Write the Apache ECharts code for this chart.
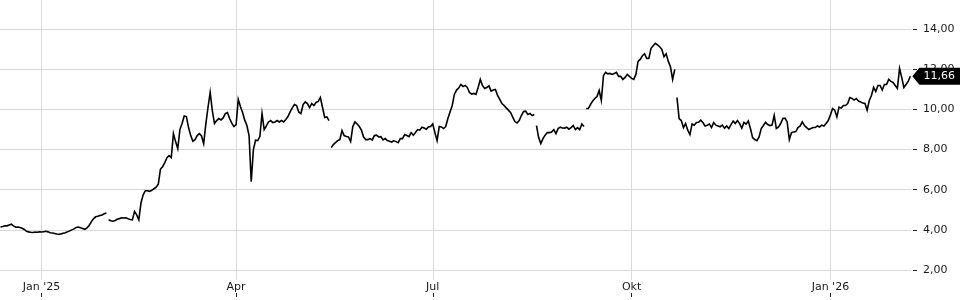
<!DOCTYPE html>
<html><head><meta charset="utf-8">
<script src="https://cdn.jsdelivr.net/npm/echarts@6/dist/echarts.min.js"></script>
<style>html,body{margin:0;padding:0;background:#fff}#c{width:960px;height:300px}</style>
</head><body><div id="c"></div>
<script>
// ---- data (daily closes; segments separated by breaks) ----
const seriesStartDate = '2024-12-13';
const seg1Start = 0;
const seg1 = [4.15,4.17,4.2,4.2,4.24,4.28,4.2,4.13,4.14,4.12,
  4.08,4.02,3.93,3.9,3.88,3.87,3.89,3.88,3.9,3.89,
  3.91,3.93,3.9,3.86,3.84,3.82,3.79,3.78,3.8,3.83,
  3.86,3.9,3.95,4.0,4.05,4.12,4.14,4.1,4.07,4.03,
  4.1,4.22,4.4,4.55,4.65,4.68,4.72,4.74,4.8,4.84];
const seg2Start = 50;
const seg2 = [4.5,4.45,4.43,4.47,4.53,4.56,4.6,4.59,4.6,4.55,
  4.52,4.5,4.92,4.75,4.5,5.35,5.75,5.95,5.95,5.92,
  5.97,6.05,6.13,6.28,7.03,7.15,7.35,7.6,7.7,7.6,
  8.8,8.4,8.05,9.0,9.3,9.68,9.65,9.1,8.7,8.42,
  8.5,8.7,8.8,8.68,8.3,9.28,10.1,10.85,9.95,9.3,
  9.45,9.55,9.48,9.58,9.8,9.85,9.55,9.32,9.15,9.25,
  10.5,10.15,9.85,9.47,9.2,8.7,6.4,8.0,8.47,8.45,
  8.65,9.8,9.0,9.18,9.38,9.45,9.35,9.38,9.45,9.38,
  9.45,9.38,9.5,9.65,9.88,10.08,10.25,10.2,9.88,9.8,
  10.25,10.38,10.3,10.1,10.3,10.2,10.35,10.4,10.6,10.1,
  9.6,9.63,9.45];
const seg3Start = 153;
const seg3 = [8.1,8.25,8.35,8.45,8.5,8.95,8.7,8.65,8.63,8.4,
  9.15,9.38,9.28,9.15,8.97,8.63,8.5,8.5,8.55,8.48,
  8.7,8.72,8.63,8.65,8.48,8.55,8.45,8.42,8.38,8.45,
  8.4,8.35,8.55,8.55,8.75,8.7,8.65,8.85,8.72,8.85,
  9.0,8.97,9.12,9.08,9.02,9.13,9.15,9.28,8.85,8.45,
  9.15,9.13,9.05,9.15,9.55,9.88,10.2,10.75,10.97,11.07,
  11.25,11.15,11.2,11.1,10.85,10.77,10.8,10.75,11.1,11.5,
  11.2,11.05,11.1,11.18,10.92,10.97,11.0,10.7,10.5,10.3,
  10.2,10.08,9.97,9.85,9.62,9.4,9.33,9.45,9.7,9.9,
  9.92,9.75,9.8,9.7,9.75];
const seg4Start = 248;
const seg4 = [9.2,8.6,8.3,8.55,8.72,8.85,8.85,8.88,9.0,8.8,
  9.05,9.12,9.08,9.07,9.12,9.02,9.1,9.2,9.0,9.1,
  9.0,9.28,9.15];
const seg5Start = 271;
const seg5 = [10.05,10.05,10.25,10.43,10.55,10.65,10.95,10.45,11.7,11.85,
  11.78,11.8,11.75,11.8,11.85,11.65,11.65,11.5,11.6,11.75,
  11.65,11.55,11.5,11.75,12.4,12.5,12.68,12.78,12.55,12.55,
  13.05,13.18,13.3,13.22,13.13,13.0,12.63,12.78,12.4,12.13,
  11.5,12.0];
const seg6Start = 313;
const seg6 = [10.6,9.55,9.45,9.1,9.3,8.97,8.75,9.28,9.22,9.35,
  9.36,9.47,9.35,9.18,9.22,9.28,9.1,9.35,9.22,9.18,
  9.14,9.22,9.07,9.18,9.05,9.25,9.42,9.3,9.45,9.3,
  9.07,9.36,9.27,9.42,9.05,8.6,8.5,8.45,8.63,9.05,
  9.2,9.36,9.25,9.2,9.22,9.7,9.05,9.13,9.3,9.55,
  9.57,9.38,8.5,8.85,8.88,8.9,
  9.1,9.18,9.38,9.2,9.1,9.0,9.05,9.1,9.1,9.18,
  9.13,9.22,9.18,9.3,9.45,9.72,10.05,9.97,9.63,10.12,
  10.07,10.2,10.2,10.3,10.6,10.55,10.47,10.55,10.42,10.38,
  10.32,10.3,9.97,10.45,10.7,11.1,10.9,11.2,11.2,10.97,
  11.25,11.25,11.5,11.4,11.35,11.2,11.05,12.05,11.6,11.1,
  11.25,11.4,11.66];

const segStarts = [seg1Start, seg2Start, seg3Start, seg4Start, seg5Start, seg6Start];
const segValues = [seg1, seg2, seg3, seg4, seg5, seg6];

const tickDates = ['2025-01-01','2025-04-01','2025-07-01','2025-10-01','2026-01-01'];
const tickLabels = ["Jan '25", 'Apr', 'Jul', 'Okt', "Jan '26"];
const yTicks = [2, 4, 6, 8, 10, 12, 14];

// ---- build ----
const DAY = 86400000;
const t0 = Date.parse(seriesStartDate);
const data = [];
segValues.forEach((vals, si) => {
  if (si > 0) {
    const prevLast = data[data.length - 1][0];
    data.push([prevLast + DAY / 2, null]);
  }
  vals.forEach((v, i) => data.push([t0 + (segStarts[si] + i) * DAY, v]));
});
const last = data[data.length - 1];
const tickTimes = tickDates.map(d => Date.parse(d));
const xMin = t0 - 0.25 * DAY;
const xMax = t0 + 421.3 * DAY;
const fmt = v => v.toFixed(2).replace('.', ',');
const FONT = 'DejaVu Sans';

const chart = echarts.init(document.getElementById('c'), null, {renderer: 'canvas'});
chart.setOption({
  animation: false,
  backgroundColor: '#fff',
  grid: {left: 0, right: 49, top: 0, bottom: 20, containLabel: false},
  xAxis: [{
    type: 'value', min: xMin, max: xMax, scale: true,
    axisLine: {show: false},
    axisTick: {show: false, customValues: tickTimes},
    axisLabel: {
      customValues: tickTimes, margin: 2, fontFamily: FONT, fontSize: 11, color: '#1a1a1a',
      formatter: (v) => { const i = tickTimes.indexOf(v); return i >= 0 ? tickLabels[i] : ''; }
    },
    splitLine: {show: true, lineStyle: {color: '#d9d9d9', width: 1}}
  }, {
    type: 'value', min: xMin, max: xMax, scale: true, position: 'bottom', offset: 13,
    axisLine: {show: false},
    axisTick: {show: true, length: 4, customValues: tickTimes, lineStyle: {color: '#222'}},
    axisLabel: {show: false},
    splitLine: {show: false}
  }],
  yAxis: {
    type: 'value', position: 'right', min: 1.5, max: 15.46, offset: 2,
    axisLine: {show: false},
    axisTick: {show: true, length: 4, customValues: yTicks, lineStyle: {color: '#222'}},
    axisLabel: {customValues: yTicks, margin: 10, fontFamily: FONT, fontSize: 11, color: '#1a1a1a',
      formatter: v => fmt(v)},
    splitLine: {show: true, lineStyle: {color: '#d9d9d9', width: 1}}
  },
  series: [{
    type: 'line', data: data, showSymbol: false, symbol: 'none', connectNulls: false,
    lineStyle: {color: '#000', width: 1.6, join: 'miter'}, clip: true,
    markPoint: {
      symbol: 'path://M0,8.5L7,0L48,0L48,17L7,17Z',
      symbolSize: [48, 17], symbolKeepAspect: false, symbolOffset: [26, 0],
      itemStyle: {color: '#000'},
      label: {show: true, position: 'inside', offset: [3, 0], color: '#fff',
        fontFamily: FONT, fontSize: 11, formatter: p => fmt(p.value)},
      data: [{coord: [last[0], last[1]], value: last[1]}]
    }
  }]
});
</script>
</body></html>
